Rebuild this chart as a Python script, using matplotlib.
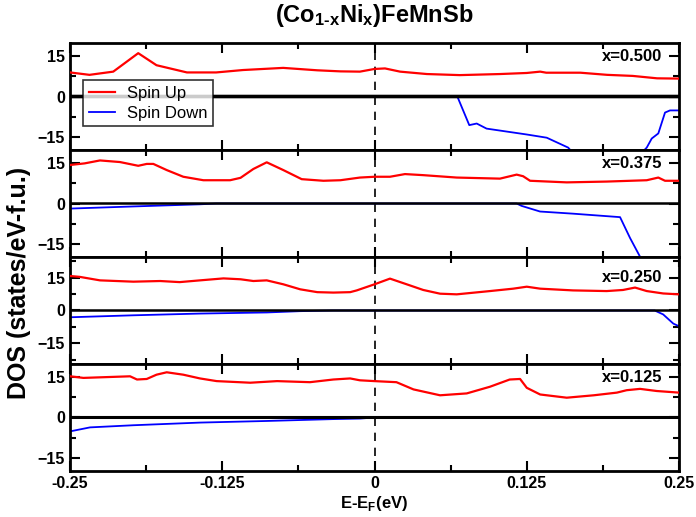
import numpy as np
import matplotlib
matplotlib.use('Agg')
import matplotlib.pyplot as plt
from matplotlib.ticker import MultipleLocator

plt.rcParams['font.family'] = ['Liberation Sans', 'DejaVu Sans']
plt.rcParams['mathtext.fontset'] = 'custom'
plt.rcParams['mathtext.rm'] = 'Liberation Sans:bold'
plt.rcParams['mathtext.bf'] = 'Liberation Sans:bold'

# Panel labels (top to bottom)
conc_labels = ['x=0.500', 'x=0.375', 'x=0.250', 'x=0.125']
ylims = [20, 20, 24.5, 20]
zero_lw = [2.6, 1.8, 1.8, 2.2]

# x=0.500
up1_x = [-0.25, -0.234, -0.2145, -0.194, -0.179, -0.154, -0.130, -0.108, -0.075, -0.047,
         -0.028, -0.012, 0.0, 0.0086, 0.021, 0.043, 0.070, 0.103, 0.125, 0.136, 0.141,
         0.169, 0.191, 0.212, 0.232, 0.25]
up1_y = [9.0, 8.1, 9.3, 16.2, 11.7, 9.0, 9.0, 9.9, 10.7, 9.8,
         9.4, 9.3, 10.3, 10.5, 9.3, 8.4, 8.0, 8.4, 8.8, 9.3, 8.9,
         8.9, 8.1, 7.7, 6.8, 6.7]
dn1_x = [-0.25, 0.068, 0.0778, 0.0839, 0.092, 0.125, 0.1414, 0.159, 0.18, 0.20, 0.2235,
         0.2276, 0.233, 0.2385, 0.2426, 0.25]
dn1_y = [0.0, 0.0, -10.7, -10.1, -12.0, -14.2, -15.4, -19.1, -30.0, -30.0, -19.1,
         -15.7, -13.8, -6.0, -5.2, -5.2]

# x=0.375
up2_x = [-0.25, -0.238, -0.2254, -0.209, -0.194, -0.187, -0.1816, -0.1706, -0.157, -0.1405,
         -0.1186, -0.110, -0.0995, -0.0885, -0.0749, -0.0598, -0.042, -0.028, -0.012, 0.0,
         0.0127, 0.025, 0.040, 0.0675, 0.103, 0.1167, 0.122, 0.1277, 0.1578, 0.1906,
         0.2235, 0.233, 0.2385, 0.25]
up2_y = [14.4, 15.0, 16.1, 15.5, 14.1, 14.8, 14.8, 12.5, 10.0, 8.7,
         8.7, 9.6, 12.9, 15.4, 12.5, 9.1, 8.5, 8.7, 9.7, 10.0,
         10.0, 11.0, 10.6, 9.7, 9.3, 10.8, 10.2, 8.5, 7.9, 8.2,
         8.7, 9.7, 8.5, 8.5]
dn2_x = [-0.25, -0.198, -0.1433, -0.13, 0.1167, 0.1208, 0.1359, 0.163, 0.2016, 0.2098,
         0.218, 0.225, 0.25]
dn2_y = [-1.9, -1.1, -0.3, 0.0, 0.0, -0.9, -3.0, -3.8, -5.1, -12.9,
         -19.9, -30.0, -30.0]

# x=0.250
up3_x = [-0.25, -0.242, -0.2254, -0.198, -0.176, -0.16, -0.1433, -0.124, -0.110, -0.0995,
         -0.0885, -0.0749, -0.061, -0.047, -0.0338, -0.020, -0.0146, 0.0, 0.0127, 0.0264,
         0.04, 0.0538, 0.0675, 0.0948, 0.1139, 0.125, 0.136, 0.163, 0.1906, 0.204,
         0.2139, 0.2235, 0.237, 0.25]
up3_y = [15.8, 15.4, 13.8, 13.2, 13.5, 13.0, 13.8, 14.7, 14.3, 13.5,
         13.8, 12.0, 9.7, 8.4, 8.2, 8.4, 9.2, 12.0, 14.6, 12.0,
         9.4, 7.7, 7.4, 8.9, 10.0, 10.9, 10.0, 9.2, 8.9, 9.4,
         10.5, 8.9, 7.8, 7.4]
dn3_x = [-0.25, -0.198, -0.143, -0.0885, -0.061, -0.034, 0.230, 0.237, 0.2453, 0.25]
dn3_y = [-3.1, -2.2, -1.4, -0.9, -0.3, 0.0, 0.0, -1.8, -6.0, -7.2]

# x=0.125
up4_x = [-0.25, -0.239, -0.2007, -0.195, -0.187, -0.179, -0.1706, -0.157, -0.1433, -0.1296,
         -0.102, -0.080, -0.053, -0.0338, -0.020, -0.012, 0.0, 0.018, 0.032, 0.0538,
         0.0757, 0.0948, 0.111, 0.1195, 0.125, 0.136, 0.1578, 0.18, 0.199, 0.207,
         0.218, 0.2317, 0.25]
up4_y = [15.4, 14.8, 15.4, 14.2, 14.4, 16.0, 16.9, 16.0, 14.6, 13.6,
         13.0, 13.6, 13.2, 14.2, 14.6, 13.9, 13.6, 13.2, 10.5, 8.3,
         9.0, 11.5, 14.2, 14.4, 11.1, 8.6, 7.4, 8.3, 9.3, 10.2,
         10.7, 9.9, 9.3]
dn4_x = [-0.25, -0.2336, -0.198, -0.143, -0.0885, -0.0338, -0.012, 0.0, 0.25]
dn4_y = [-5.2, -3.7, -2.9, -1.9, -1.3, -0.6, -0.4, 0.0, 0.0]

spin_up = [(up1_x, up1_y), (up2_x, up2_y), (up3_x, up3_y), (up4_x, up4_y)]
spin_dn = [(dn1_x, dn1_y), (dn2_x, dn2_y), (dn3_x, dn3_y), (dn4_x, dn4_y)]

fig, axes = plt.subplots(4, 1, sharex=True, figsize=(6.96, 5.17), dpi=100)
left, right = 0.1006, 0.9756
fig.subplots_adjust(left=left, right=right, top=0.9168, bottom=0.089, hspace=0)

for i, ax in enumerate(axes):
    ux, uy = spin_up[i]
    dx, dy = spin_dn[i]
    ax.plot(dx, dy, color='blue', lw=1.3, label='Spin Down', zorder=2)
    ax.plot(ux, uy, color='red', lw=1.6, label='Spin Up', zorder=3)
    zl = ax.axhline(0, color='black', lw=zero_lw[i], zorder=4)
    zl.set_snap(False)  # keep it on top of the unsnapped blue line
    ax.axvline(0, color='black', lw=1.2, ls=(0, (5, 4)), zorder=1)
    ax.set_xlim(-0.25, 0.25)
    ax.set_ylim(-ylims[i], ylims[i])
    ax.xaxis.set_major_locator(MultipleLocator(0.125))
    ax.xaxis.set_minor_locator(MultipleLocator(0.0625))
    ax.yaxis.set_major_locator(MultipleLocator(15))
    ax.yaxis.set_minor_locator(MultipleLocator(7.5))
    ax.tick_params(which='both', direction='in', top=True, right=True, width=1.5)
    ax.tick_params(which='major', length=7)
    ax.tick_params(which='minor', length=4)
    ax.tick_params(labelsize=11.5)
    for lab in ax.get_yticklabels() + ax.get_xticklabels():
        lab.set_fontweight('bold')
    for sp in ax.spines.values():
        sp.set_linewidth(2)
    ax.text(0.236, 15, conc_labels[i], ha='right', va='center', fontsize=12,
            fontweight='bold', zorder=5)

axes[-1].set_xticks([-0.25, -0.125, 0, 0.125, 0.25])
axes[-1].set_xticklabels(['-0.25', '-0.125', '0', '0.125', '0.25'], fontweight='bold')

h, l = axes[0].get_legend_handles_labels()
leg = axes[0].legend(h[::-1], l[::-1], loc='upper left', bbox_to_anchor=(0.021, 0.656),
                     borderaxespad=0, fontsize=12, frameon=True, fancybox=False,
                     handlelength=1.6, handletextpad=0.7, borderpad=0.35,
                     labelspacing=0.3)
leg.get_frame().set_edgecolor('black')
leg.get_frame().set_linewidth(1.2)

fig.text((left + right) / 2, 1 - 22 / 517, r'$\mathbf{(Co_{1\text{-}x}Ni_x)FeMnSb}$',
         fontsize=17, ha='center', va='baseline')
fig.text(0.028, 1 - 283 / 517, 'DOS (states/eV-f.u.)', fontsize=18, fontweight='bold',
         rotation=90, ha='center', va='center')
axes[-1].set_xlabel(r'E-E$_\mathbf{F}$(eV)', fontsize=12, fontweight='bold', labelpad=2)

fig.savefig('out.png', dpi=100)
